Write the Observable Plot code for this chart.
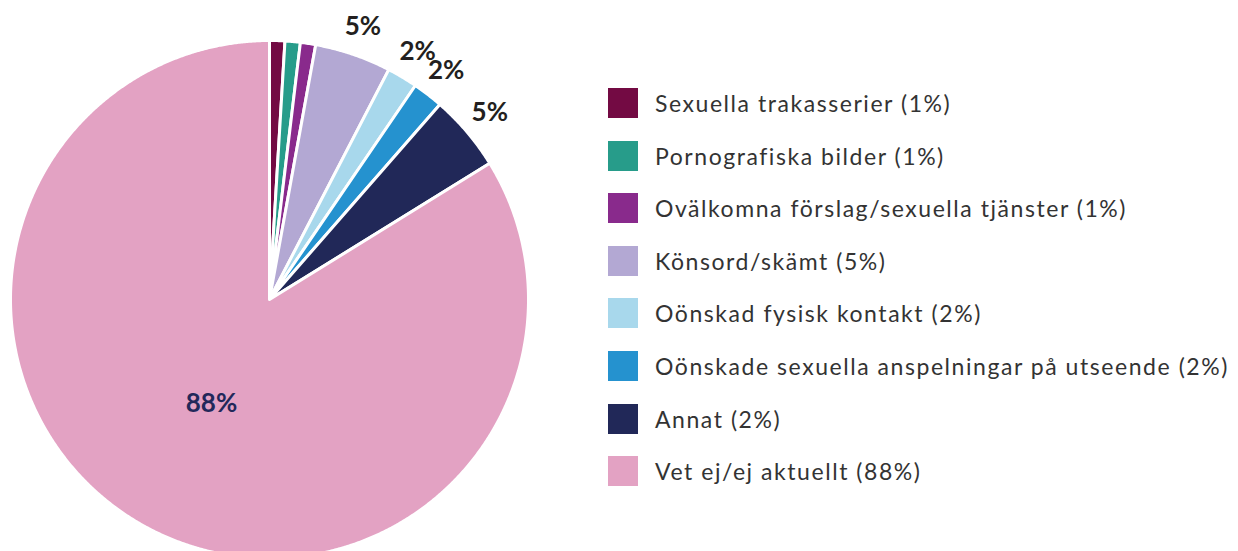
<!DOCTYPE html>
<html>
<head>
<meta charset="utf-8">
<script src="https://cdn.jsdelivr.net/npm/d3@7"></script>
<script src="https://cdn.jsdelivr.net/npm/@observablehq/plot@0.6"></script>
<style>
  html, body { margin: 0; padding: 0; background: #fff; overflow: hidden; }
  #wrap { position: relative; width: 1238px; height: 551px; font-family: Lato, "Noto Sans", sans-serif; }
  #chart { position: absolute; left: 0; top: 0; }
  #legend { position: absolute; left: 608px; top: 88px; }
  .row { display: flex; align-items: center; height: 30px; margin-bottom: 22.6px; }
  .sw { width: 30px; height: 30px; flex: none; }
  .lb { margin-left: 17px; font-size: 23px; color: #333333; white-space: nowrap; letter-spacing: 1.55px; }
</style>
</head>
<body>
<div id="wrap">
  <div id="chart"></div>
  <div id="legend"></div>
</div>
<script>
// Data
const categories = [
  "Sexuella trakasserier",
  "Pornografiska bilder",
  "Ovälkomna förslag/sexuella tjänster",
  "Könsord/skämt",
  "Oönskad fysisk kontakt",
  "Oönskade sexuella anspelningar på utseende",
  "Annat",
  "Vet ej/ej aktuellt"
];
const pieValues = [1, 1, 1, 5, 2, 2, 5, 88];
const legendPercents = [1, 1, 1, 5, 2, 2, 2, 88];
const colors = ["#730a43", "#279c8a", "#892a8c", "#b3a8d3", "#a8d8ec", "#2592cf", "#212858", "#e3a2c3"];

const table = categories.map((c, i) => ({category: c, value: pieValues[i], legend: legendPercents[i]}));

// Pie geometry from the data via d3.pie
const arcs = d3.pie().sort(null).value(d => d.value)(table);
const points = [];
for (const a of arcs) {
  points.push({category: a.data.category, x: 0, y: 0});
  const n = Math.max(2, Math.ceil((a.endAngle - a.startAngle) / 0.005));
  for (let k = 0; k <= n; k++) {
    const t = a.startAngle + (a.endAngle - a.startAngle) * k / n;
    points.push({category: a.data.category, x: Math.sin(t), y: Math.cos(t)});
  }
}
const largest = d3.max(pieValues);
const labels = arcs.filter(a => a.data.value >= 2).map(a => {
  const m = (a.startAngle + a.endAngle) / 2;
  const inside = a.data.value === largest;
  const r = inside ? 0.46 : 1.115;
  return {text: a.data.value + "%", x: r * Math.sin(m), y: r * Math.cos(m), inside};
});

const plot = Plot.plot({
  width: 1238,
  height: 551,
  margin: 0,
  x: {domain: [-1, 1], range: [10, 528], axis: null},
  y: {domain: [-1, 1], range: [558, 40], axis: null},
  color: {domain: categories, range: colors},
  style: {fontFamily: "Lato, 'Noto Sans', sans-serif", background: "transparent"},
  marks: [
    Plot.line(points, {x: "x", y: "y", z: "category", fill: "category", stroke: "white", strokeWidth: 3, curve: "linear-closed", strokeLinejoin: "round"}),
    Plot.text(labels.filter(d => !d.inside), {x: "x", y: "y", text: "text", fontSize: 26, fontWeight: "bold", fill: "#231f20", letterSpacing: "1px"}),
    Plot.text(labels.filter(d => d.inside), {x: "x", y: "y", text: "text", fontSize: 26, fontWeight: "bold", fill: "#22285a", letterSpacing: "2px"})
  ]
});
document.getElementById("chart").appendChild(plot);

// Legend
const legend = document.getElementById("legend");
table.forEach((d, i) => {
  const row = document.createElement("div");
  row.className = "row";
  const sw = document.createElement("div");
  sw.className = "sw";
  sw.style.background = colors[i];
  const lb = document.createElement("div");
  lb.className = "lb";
  lb.textContent = `${d.category} (${d.legend}%)`;
  row.appendChild(sw);
  row.appendChild(lb);
  legend.appendChild(row);
});
</script>
</body>
</html>
